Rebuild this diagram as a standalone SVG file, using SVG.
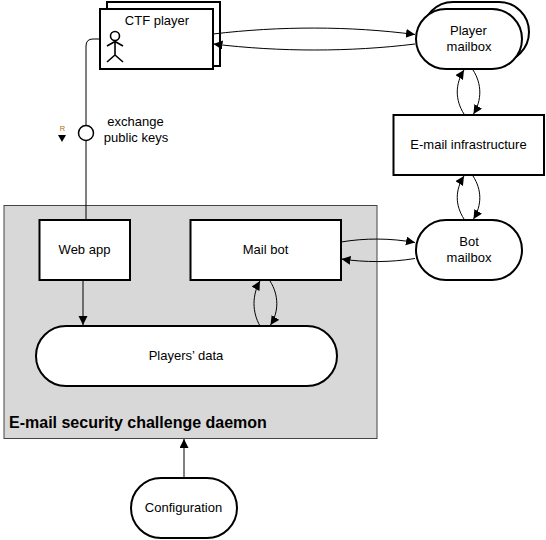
<svg xmlns="http://www.w3.org/2000/svg" width="546" height="540" viewBox="0 0 546 540">
<style>
text{font-family:"Liberation Sans",Arial,sans-serif;font-size:13px;fill:#000;text-anchor:middle}
.b{fill:#fff;stroke:#000;stroke-width:2}
.c{fill:none;stroke:#000;stroke-width:1}
.t{fill:none;stroke:#000;stroke-width:1.600}
.a{fill:none;stroke:#000;stroke-width:1;marker-end:url(#ah)}
</style>
<defs>
<marker id="ah" markerUnits="userSpaceOnUse" markerWidth="10" markerHeight="10" refX="9" refY="4.500" orient="auto"><path d="M0 0L9 4.500L0 9Z" fill="#000"/></marker>
</defs>
<rect width="546" height="540" fill="#fff"/>
<g id="daemon">
<rect x="4" y="205.500" width="373" height="233" fill="#d8d8d8" stroke="#444" stroke-width="1"/>
<text x="9" y="428" style="font-weight:bold;font-size:16px;text-anchor:start">E-mail security challenge daemon</text>
</g>
<g id="ctf-player">
<rect class="b" x="107" y="2" width="113" height="64"/>
<rect class="b" x="100" y="9" width="113" height="60"/>
<text x="157" y="25">CTF player</text>
<g class="t">
<circle cx="115" cy="36" r="4.500"/>
<path d="M115 40.500V55M107 46L115 41.500L123 46M107 62L115 55L123 62"/>
</g>
</g>
<g id="player-mailbox">
<rect class="b" x="423" y="2" width="106" height="60" rx="30"/>
<rect class="b" x="416" y="9" width="106" height="60" rx="30"/>
<text x="468.500" y="35">Player</text>
<text x="469" y="51">mailbox</text>
</g>
<g id="email-infrastructure">
<rect class="b" x="393.500" y="115" width="150.500" height="60"/>
<text x="468.500" y="149">E-mail infrastructure</text>
</g>
<g id="bot-mailbox">
<rect class="b" x="416" y="220" width="106" height="60" rx="30"/>
<text x="469" y="246">Bot</text>
<text x="469" y="262">mailbox</text>
</g>
<g id="web-app">
<rect class="b" x="39.500" y="220" width="90.500" height="60"/>
<text x="84.500" y="254">Web app</text>
</g>
<g id="mail-bot">
<rect class="b" x="190.500" y="220" width="150.500" height="60"/>
<text x="265.500" y="254">Mail bot</text>
</g>
<g id="players-data">
<rect class="b" x="36" y="326" width="301" height="60" rx="30"/>
<text x="186" y="360">Players’ data</text>
</g>
<g id="configuration">
<rect class="b" x="131" y="478" width="106" height="60" rx="30"/>
<text x="183.500" y="512">Configuration</text>
</g>
<g id="exchange-public-keys">
<circle cx="86" cy="133" r="7.500" fill="#fff" stroke="#000" stroke-width="1.500"/>
<text x="135.500" y="126">exchange</text>
<text x="136" y="142">public keys</text>
<text x="62.500" y="131" style="font-size:7.500px;fill:#c06a10">R</text>
<path d="M58 135H66L62 142Z" fill="#000"/>
</g>
<g id="connectors">
<path class="c" d="M100 39H93Q86 39 86 46V125.500M86 140.500V220"/>
<path class="a" d="M213 34C280 26 350 26 415 34.500"/>
<path class="a" d="M415 44C350 52 280 52 213.500 44"/>
<path class="a" d="M464 114C455 100 455 84 464 70"/>
<path class="a" d="M473 70C482 84 482 100 473.500 114"/>
<path class="a" d="M464 219C455 205 455 190 464 176"/>
<path class="a" d="M473 176C482 190 482 205 473.500 219"/>
<path class="a" d="M341 242C365 238 390 238 415 242.500"/>
<path class="a" d="M415 258.500C390 262.500 365 262.500 341.500 259"/>
<path class="a" d="M260 326C252 312 252 295 260 281"/>
<path class="a" d="M270 281C279 295 279 312 270.500 325"/>
<path class="a" d="M83 280.500V325"/>
<path class="a" d="M184 478V439"/>
</g>
</svg>
